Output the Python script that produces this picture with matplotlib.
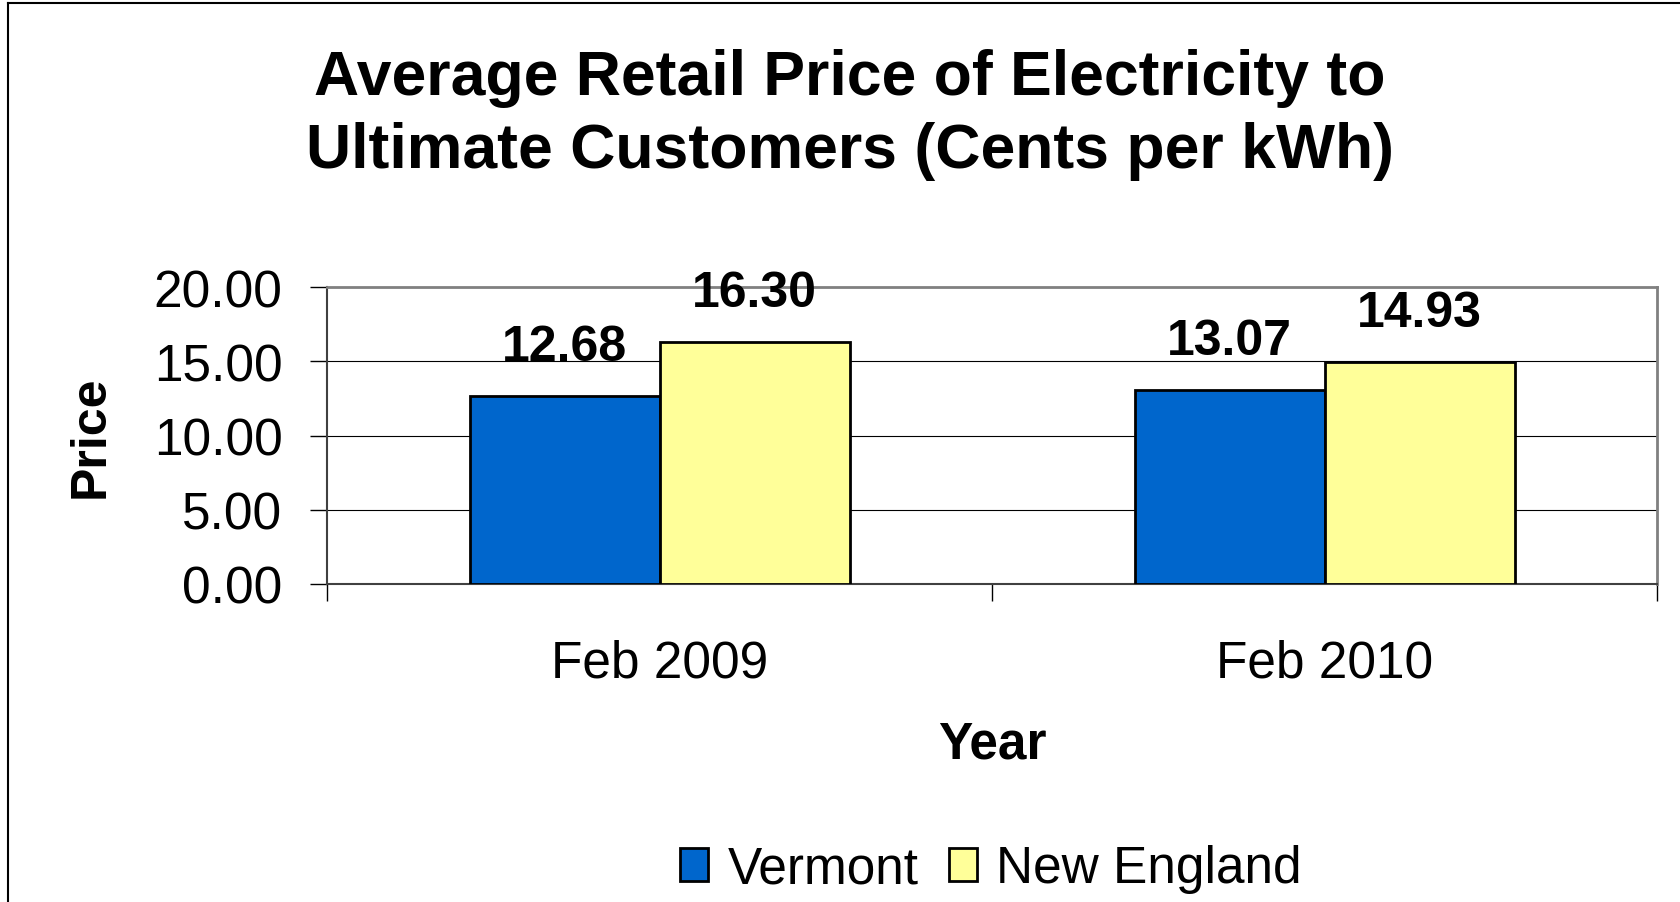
import matplotlib
matplotlib.use("Agg")
import matplotlib.pyplot as plt
import numpy as np
from matplotlib.lines import Line2D

# data
years = ["Feb 2009", "Feb 2010"]
vermont = [12.68, 13.07]
new_england = [16.30, 14.93]
series_names = ["Vermont", "New England"]
y_ticks = [0, 5, 10, 15, 20]

plt.rcParams['font.family'] = ['Liberation Sans', 'DejaVu Sans']

W, H = 1680, 903
fig = plt.figure(figsize=(W / 100, H / 100), dpi=100)
fig.patch.set_facecolor("white")

# plot area in pixels
left, right, top, bottom = 327, 1657, 288, 585
ax = fig.add_axes([left / W, 1 - bottom / H, (right - left) / W, (bottom - top) / H])

x = np.arange(len(years))
bw = 1 / 3.5
b1 = ax.bar(x - bw / 2, vermont, bw, color="#0066CC", edgecolor="black", linewidth=2, label=series_names[0], zorder=3)
b2 = ax.bar(x + bw / 2, new_england, bw, color="#FFFF99", edgecolor="black", linewidth=2, label=series_names[1], zorder=3)

# value labels above bars
for bars, vals in ((b1, vermont), (b2, new_england)):
    for rect, v in zip(bars, vals):
        ax.annotate(f"{v:.2f}", (rect.get_x() + rect.get_width() / 2, v),
                    xytext=(0, 26), textcoords="offset points",
                    ha="center", va="baseline", fontsize=36, fontweight="bold")

ax.set_xlim(-0.5, len(years) - 0.5)
ax.set_ylim(0, 20)
ax.set_yticks(y_ticks)
ax.set_yticklabels([f"{t:.2f}" for t in y_ticks])
ax.yaxis.grid(True, color="black", linewidth=0.8, zorder=0)
ax.set_axisbelow(True)

ax.set_xticks(x)
ax.set_xticklabels(years)
ax.set_xticks(np.arange(-0.5, len(years)), minor=True)
ax.tick_params(axis="x", which="major", length=0, pad=39, labelsize=37)
ax.tick_params(axis="x", which="minor", length=12, width=1, color="black")
ax.tick_params(axis="y", length=12, width=1, pad=20, labelsize=37, color="black")

for s in ("top", "right"):
    ax.spines[s].set_color("#808080")
    ax.spines[s].set_linewidth(2)
ax.spines["left"].set_color("#404040")
ax.spines["left"].set_linewidth(1.5)
ax.spines["bottom"].set_color("#404040")
ax.spines["bottom"].set_linewidth(1.5)

# axis titles
fig.text(91 / W, 1 - 437 / H, "Price", rotation=90, ha="center", va="center",
         fontsize=36, fontweight="bold")
fig.text(992 / W, 1 - 745 / H, "Year", ha="center", va="center",
         fontsize=37, fontweight="bold")

# chart title
fig.text(850 / W, 1 - 95 / H, "Average Retail Price of Electricity to",
         ha="center", va="baseline", fontsize=45, fontweight="bold")
fig.text(850 / W, 1 - 168 / H, "Ultimate Customers (Cents per kWh)",
         ha="center", va="baseline", fontsize=45, fontweight="bold")

# legend
fig.legend(handles=[b1, b2], labels=series_names, loc="center",
           bbox_to_anchor=(991 / W, 1 - 870 / H), ncol=2, frameon=False,
           fontsize=37, handlelength=0.55, handleheight=0.62,
           handletextpad=0.37, columnspacing=0.6, borderpad=0)

# chart frame (left and top edges visible)
fig.add_artist(Line2D([8 / W, 8 / W], [0, 1 - 4 / H], transform=fig.transFigure, color="black", linewidth=1.5))
fig.add_artist(Line2D([8 / W, 1], [1 - 4 / H, 1 - 4 / H], transform=fig.transFigure, color="black", linewidth=1.5))

fig.savefig("out.png", dpi=100)
